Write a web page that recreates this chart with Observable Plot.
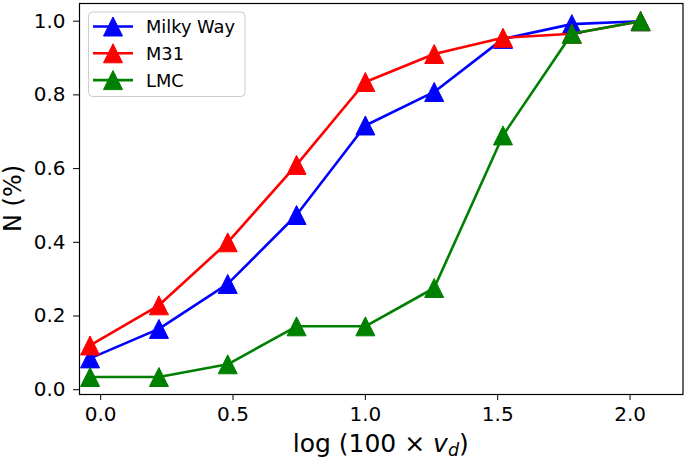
<!DOCTYPE html>
<html>
<head>
<meta charset="utf-8">
<script src="https://cdn.jsdelivr.net/npm/d3@7"></script>
<script src="https://cdn.jsdelivr.net/npm/@observablehq/plot@0.6"></script>
<style>
  html, body { margin: 0; padding: 0; background: #fff; }
  svg { display: block; }
</style>
</head>
<body>
<div id="chart"></div>
<script>
const xValues = [-0.04, 0.22, 0.48, 0.74, 1.0, 1.26, 1.52, 1.78, 2.04];
const milkyWay = [0.085, 0.165, 0.287, 0.474, 0.717, 0.808, 0.952, 0.992, 1.0];
const m31      = [0.120, 0.229, 0.400, 0.610, 0.835, 0.911, 0.955, 0.966, 1.0];
const lmc      = [0.0345, 0.0345, 0.069, 0.172, 0.172, 0.276, 0.690, 0.966, 1.0];
const seriesNames = ["Milky Way", "M31", "LMC"];
const seriesColors = ["#0000ff", "#ff0000", "#008000"];
const xTicks = [0, 0.5, 1.0, 1.5, 2.0];
const yTicks = [0, 0.2, 0.4, 0.6, 0.8, 1.0];

const seriesValues = [milkyWay, m31, lmc];
const rows = [];
seriesNames.forEach((name, si) => {
  xValues.forEach((x, i) => rows.push({series: name, x, y: seriesValues[si][i]}));
});

// matplotlib-style "^" marker: triangle centred on its bounding box
const tri = {
  draw(ctx, size) {
    const r = Math.sqrt(size / Math.PI);
    ctx.moveTo(0, -r);
    ctx.lineTo(r, r);
    ctx.lineTo(-r, r);
    ctx.closePath();
  }
};

const marks = [];
seriesNames.forEach((name, si) => {
  const d = rows.filter(r => r.series === name);
  marks.push(Plot.line(d, {x: "x", y: "y", stroke: seriesColors[si], strokeWidth: 2.6}));
  marks.push(Plot.dot(d, {x: "x", y: "y", symbol: tri, r: 9.5, fill: seriesColors[si], stroke: seriesColors[si], strokeWidth: 1}));
});

const W = 685, H = 460;
const mL = 79, mR = 2.5, mT = 3, mB = 66;

const svg = Plot.plot({
  width: W,
  height: H,
  marginLeft: mL,
  marginRight: mR,
  marginTop: mT,
  marginBottom: mB,
  style: {fontFamily: "DejaVu Sans", fontSize: "20px", color: "#000", background: "#fff"},
  x: {domain: [-0.08, 2.2], ticks: xTicks, tickFormat: d3.format(".1f"), tickSize: 6, tickPadding: 6, label: null},
  y: {domain: [-0.013, 1.048], ticks: yTicks, tickFormat: d3.format(".1f"), tickSize: 6, tickPadding: 8, label: null},
  marks: [
    ...marks,
    Plot.frame({stroke: "#000", strokeWidth: 1.2})
  ]
});

const s = d3.select(svg);
s.selectAll("[aria-label='x-axis tick label'] text, [aria-label='y-axis tick label'] text").attr("fill", "#000");

// Axis labels
const xl = s.append("text")
  .attr("x", mL + (W - mL - mR) / 2)
  .attr("y", 452)
  .attr("text-anchor", "middle")
  .attr("font-family", "DejaVu Sans")
  .attr("font-size", 25)
  .attr("fill", "#000");
xl.append("tspan").text("log (100 × ");
xl.append("tspan").attr("font-style", "italic").text("v");
xl.append("tspan").attr("font-style", "italic").attr("font-size", 17.5).attr("dy", 4).text("d");
xl.append("tspan").attr("dy", -4).text(")");

s.append("text")
  .attr("transform", `translate(21,${mT + (H - mT - mB) / 2}) rotate(-90)`)
  .attr("text-anchor", "middle")
  .attr("font-family", "DejaVu Sans")
  .attr("font-size", 24)
  .attr("fill", "#000")
  .text("N (%)");

// Legend
const lg = s.append("g").attr("text-anchor", "start");
lg.append("rect")
  .attr("x", 88.5).attr("y", 12).attr("width", 156.5).attr("height", 84.5)
  .attr("rx", 4).attr("fill", "#fff").attr("fill-opacity", 0.8)
  .attr("stroke", "#cccccc").attr("stroke-width", 1);
const sym = d3.symbol(tri, 9.5 * 9.5 * Math.PI);
seriesNames.forEach((name, i) => {
  const cy = 26.5 + i * 26.8;
  lg.append("line").attr("x1", 93).attr("x2", 133).attr("y1", cy).attr("y2", cy)
    .attr("stroke", seriesColors[i]).attr("stroke-width", 2.6);
  lg.append("path").attr("d", sym()).attr("transform", `translate(113,${cy})`)
    .attr("fill", seriesColors[i]).attr("stroke", seriesColors[i]).attr("stroke-width", 1);
  lg.append("text").attr("x", 146).attr("y", cy).attr("dy", "0.36em")
    .attr("text-anchor", "start")
    .attr("font-family", "DejaVu Sans").attr("font-size", 17.8).attr("fill", "#000")
    .text(name);
});

document.getElementById("chart").appendChild(svg);
</script>
</body>
</html>
